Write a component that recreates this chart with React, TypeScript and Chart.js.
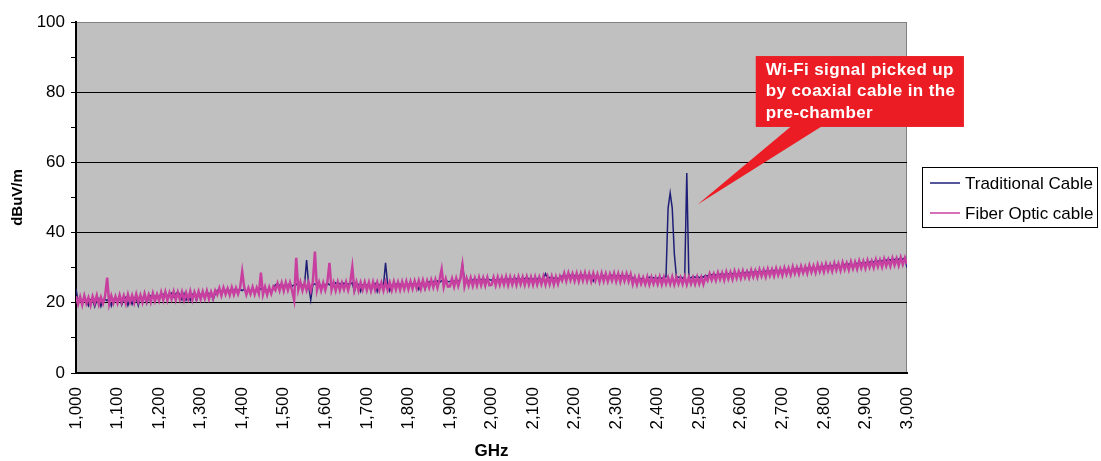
import React, { useEffect, useRef } from 'react';
import { Chart, registerables } from 'chart.js';

Chart.register(...registerables);

// ---- axis definitions ----
const FREQ_START = 1000; // start of the sweep grid
const FREQ_STEP = 5;
const X_MIN = 1000;
const X_MAX = 3000;
const X_TICK_STEP = 100;
const Y_MIN = 0;
const Y_MAX = 100;
const Y_TICK_STEP = 10;
const Y_LABEL_STEP = 20;

const SERIES_NAMES = ['Traditional Cable', 'Fiber Optic cable'];
const SERIES_COLORS = ['#1e1e78', '#c8409f'];
const X_TITLE = 'GHz';
const Y_TITLE = 'dBuV/m';

// ---- series values, one per 5 MHz step, rows of 100 MHz ----
const traditionalCable = [
  24.0, 20.5, 21.0, 20.2, 21.3, 20.6, 19.2, 20.9, 21.1, 18.9, 20.7, 21.2, 19.0, 20.8, 21.0, 20.6, 21.3, 19.1, 20.9, 21.1,
  21.0, 21.4, 19.4, 21.2, 21.6, 19.3, 21.1, 19.6, 21.5, 21.3, 19.2, 21.7, 21.4, 21.8, 19.8, 21.5, 22.0, 21.6, 21.9, 21.7,
  21.8, 22.6, 22.2, 23.0, 21.9, 22.4, 22.8, 21.7, 22.5, 23.1, 22.3, 20.9, 22.6, 20.8, 21.9, 20.7, 22.4, 22.8, 20.6, 22.5,
  22.3, 22.7, 22.1, 23.2, 22.4, 22.8, 20.9, 22.6, 23.5, 23.9, 23.2, 23.8, 23.4, 24.0, 23.3, 23.7, 23.5, 24.1, 23.4, 23.8,
  23.5, 23.9, 23.2, 23.7, 23.4, 24.0, 23.3, 23.8, 23.5, 24.1, 23.6, 23.9, 23.4, 24.0, 23.5, 23.9, 25.1, 25.4, 24.9, 25.3,
  24.8, 25.2, 24.9, 25.5, 24.7, 25.1, 25.3, 24.9, 25.4, 25.0, 25.2, 32.2, 24.9, 20.8, 25.1, 25.4, 25.0, 25.5, 24.8, 25.2,
  25.0, 25.6, 25.1, 25.4, 25.0, 25.7, 25.2, 25.5, 24.9, 25.6, 25.1, 25.4, 25.3, 25.7, 23.2, 25.5, 25.2, 23.3, 25.1, 25.4,
  25.0, 25.4, 23.3, 25.2, 25.5, 23.2, 25.1, 25.4, 24.9, 31.4, 25.3, 23.4, 25.0, 25.4, 25.2, 25.6, 25.1, 25.5, 25.0, 25.3,
  25.2, 25.6, 25.3, 25.7, 25.2, 23.8, 25.5, 25.9, 23.9, 25.6, 26.0, 25.7, 26.1, 25.5, 26.2, 25.8, 26.3, 25.9, 26.4, 26.0,
  26.1, 26.5, 26.0, 26.6, 26.2, 26.7, 31.0, 26.3, 26.8, 26.2, 26.6, 26.4, 26.9, 26.3, 26.7, 26.5, 27.0, 26.4, 26.8, 26.6,
  26.4, 26.9, 26.3, 27.0, 26.5, 26.8, 26.4, 27.1, 26.6, 26.9, 26.5, 27.2, 26.7, 27.0, 26.6, 27.1, 26.8, 27.3, 26.7, 27.0,
  26.6, 27.1, 26.7, 27.3, 26.5, 27.0, 28.3, 26.8, 27.2, 26.7, 27.1, 26.6, 27.0, 26.9, 27.6, 28.0, 27.5, 28.1, 27.7, 28.2,
  27.6, 28.0, 27.5, 28.2, 27.7, 27.9, 27.4, 28.1, 27.6, 26.2, 27.5, 27.9, 26.1, 28.0, 27.6, 27.8, 26.3, 28.1, 27.7, 27.9,
  27.5, 28.0, 27.6, 27.9, 27.4, 28.1, 27.5, 27.8, 26.8, 27.3, 25.8, 27.1, 26.7, 27.2, 25.7, 26.9, 27.3, 26.8, 27.2, 26.9,
  27.0, 27.4, 26.9, 27.3, 27.4, 47.0, 51.3, 47.0, 34.0, 27.5, 27.2, 27.4, 27.0, 27.3, 57.0, 27.3, 27.1, 27.5, 27.2, 27.6,
  27.1, 27.5, 27.3, 27.8, 27.6, 28.1, 27.9, 28.3, 27.8, 28.2, 28.0, 28.4, 27.9, 28.5, 28.1, 28.6, 28.2, 28.7, 28.0, 28.6,
  28.3, 28.8, 28.4, 29.0, 28.5, 28.9, 28.6, 29.1, 28.7, 29.0, 28.8, 29.2, 28.9, 29.3, 28.8, 29.4, 29.0, 29.5, 28.9, 29.4,
  29.1, 29.6, 29.2, 29.7, 28.3, 29.8, 29.4, 29.9, 29.5, 30.0, 28.7, 30.1, 29.7, 30.2, 29.8, 30.3, 28.9, 30.4, 30.0, 30.5,
  30.2, 30.7, 30.3, 30.8, 30.4, 30.9, 30.6, 31.0, 29.6, 31.1, 30.8, 31.2, 30.9, 31.3, 30.0, 31.4, 31.1, 31.5, 31.2, 31.6,
  31.3, 31.8, 31.5, 31.9, 31.6, 32.1, 31.7, 32.2, 31.8, 32.3, 32.0, 32.5, 32.1, 32.6, 32.2, 32.7, 32.3, 32.8, 32.4, 32.9,
  30.0,
];

const fiberOpticCable = [
  21.9, 19.6, 21.7, 19.4, 22.0, 19.8, 21.5, 19.3, 21.8, 19.9, 22.1, 19.5, 21.6, 19.8, 21.9, 27.2, 19.7, 22.0, 19.9, 21.8,
  19.9, 22.2, 20.1, 22.0, 19.8, 22.4, 20.2, 22.1, 20.0, 22.5, 20.3, 22.2, 20.1, 22.6, 20.4, 22.3, 20.2, 22.7, 20.5, 22.4,
  20.6, 23.0, 20.8, 23.1, 20.7, 22.9, 21.0, 23.2, 20.8, 23.0, 20.9, 23.1, 20.7, 22.9, 21.0, 23.3, 20.8, 23.0, 21.1, 23.2,
  21.0, 23.2, 21.2, 23.4, 21.1, 23.1, 21.3, 23.5, 22.3, 24.2, 22.1, 24.3, 22.4, 24.1, 22.2, 24.4, 22.3, 24.2, 22.5, 24.3,
  28.9, 24.4, 22.3, 24.2, 22.5, 24.5, 22.4, 24.3, 22.6, 28.6, 22.4, 24.5, 22.3, 24.4, 22.6, 24.6, 23.6, 25.6, 23.5, 25.7,
  23.4, 25.8, 23.6, 25.7, 23.5, 20.8, 32.8, 23.7, 25.9, 23.5, 25.7, 23.6, 25.8, 23.4, 25.9, 34.6, 23.6, 25.8, 23.5, 25.7,
  23.6, 25.9, 31.4, 23.7, 25.8, 23.5, 25.9, 23.6, 25.7, 23.8, 25.9, 23.6, 25.8, 30.2, 23.7, 25.9, 23.5, 25.8, 23.7, 25.9,
  23.6, 25.8, 23.5, 25.9, 23.7, 25.8, 23.6, 25.7, 23.5, 25.9, 23.7, 25.8, 23.6, 26.0, 23.8, 25.9, 23.7, 26.0, 23.9, 26.1,
  23.9, 26.1, 24.0, 26.2, 24.1, 26.3, 24.0, 26.4, 24.2, 26.3, 24.3, 26.5, 24.4, 26.6, 24.3, 26.7, 29.6, 24.5, 26.8, 24.6,
  24.7, 26.9, 24.6, 27.0, 24.8, 26.9, 30.8, 24.7, 27.0, 24.9, 27.1, 24.8, 27.0, 24.9, 27.2, 25.0, 27.1, 24.9, 27.2, 25.0,
  25.1, 27.2, 25.0, 27.3, 25.1, 27.2, 25.2, 27.4, 25.0, 27.3, 25.2, 27.2, 25.1, 27.4, 25.3, 27.3, 25.1, 27.4, 25.2, 27.3,
  25.1, 27.4, 25.2, 27.3, 25.3, 27.5, 25.2, 27.4, 25.3, 27.5, 25.2, 27.4, 25.4, 27.6, 26.3, 28.4, 26.2, 28.5, 26.4, 28.3,
  26.2, 28.4, 26.1, 28.3, 26.3, 28.5, 26.2, 28.3, 26.1, 28.4, 26.3, 28.2, 26.0, 28.4, 26.2, 28.3, 26.1, 28.2, 26.3, 28.4,
  26.1, 28.3, 26.0, 28.2, 26.2, 28.3, 26.1, 28.1, 25.3, 27.3, 25.2, 27.4, 25.4, 27.2, 25.3, 27.4, 25.2, 27.3, 25.4, 27.2,
  25.3, 27.4, 25.2, 27.3, 25.4, 27.2, 25.3, 27.4, 25.2, 27.3, 25.4, 27.2, 25.3, 27.4, 25.2, 27.3, 25.4, 27.2, 25.3, 27.4,
  25.4, 27.3, 25.3, 27.4, 26.3, 28.3, 26.5, 28.2, 26.4, 28.6, 26.7, 28.5, 26.5, 28.8, 26.8, 28.7, 26.7, 29.0, 27.0, 28.9,
  27.0, 29.1, 27.2, 28.9, 27.1, 29.3, 27.4, 29.2, 27.3, 29.5, 27.6, 29.4, 27.4, 29.6, 27.7, 29.5, 27.6, 29.8, 27.9, 29.7,
  27.8, 30.0, 28.1, 29.9, 28.0, 30.3, 28.3, 30.1, 28.2, 30.4, 28.5, 30.3, 28.4, 30.7, 28.7, 30.5, 28.6, 30.9, 28.9, 30.8,
  28.8, 31.1, 29.1, 30.9, 29.0, 31.3, 29.3, 31.2, 29.2, 31.5, 29.5, 31.3, 29.4, 31.7, 29.7, 31.6, 29.6, 31.9, 29.9, 31.8,
  29.8, 32.1, 30.1, 31.9, 30.0, 32.3, 30.3, 32.2, 30.2, 32.5, 30.5, 32.3, 30.4, 32.7, 30.7, 32.6, 30.6, 32.9, 30.9, 32.8,
  31.0,
];

// ---- callout annotation (data coordinates) ----
const CALLOUT_LINES = ['Wi-Fi signal picked up', 'by coaxial cable in the', 'pre-chamber'];
const CALLOUT_TIP = { x: 2496, y: 48 };
const CALLOUT_BOX = { x0: 2636, x1: 3137, yTop: 90.3, yBottom: 70.1 };
const CALLOUT_BASE = { x0: 2725, x1: 2800 };

const SANS = "'Liberation Sans', Arial, sans-serif";

const toPoints = (values: number[]) =>
  values.map((v, i) => ({ x: FREQ_START + i * FREQ_STEP, y: v }));

const plotBackground = {
  id: 'plotBackground',
  beforeDraw(chart: any) {
    const { ctx, chartArea: a } = chart;
    ctx.save();
    ctx.fillStyle = '#c0c0c0';
    ctx.fillRect(a.left, a.top, a.right - a.left, a.bottom - a.top);
    ctx.strokeStyle = '#808080';
    ctx.lineWidth = 1;
    ctx.strokeRect(a.left + 0.5, a.top + 0.5, a.right - a.left - 1, a.bottom - a.top - 1);
    ctx.restore();
  },
};

const calloutPlugin = {
  id: 'callout',
  afterDraw(chart: any) {
    const { ctx, scales } = chart;
    const xs = scales.x;
    const ys = scales.y;
    const left = xs.getPixelForValue(CALLOUT_BOX.x0);
    const right = xs.getPixelForValue(CALLOUT_BOX.x1);
    const top = ys.getPixelForValue(CALLOUT_BOX.yTop);
    const bottom = ys.getPixelForValue(CALLOUT_BOX.yBottom);
    const tipX = xs.getPixelForValue(CALLOUT_TIP.x);
    const tipY = ys.getPixelForValue(CALLOUT_TIP.y);
    const b0 = xs.getPixelForValue(CALLOUT_BASE.x0);
    const b1 = xs.getPixelForValue(CALLOUT_BASE.x1);
    ctx.save();
    ctx.fillStyle = '#ec1c24';
    ctx.beginPath();
    ctx.moveTo(b0, bottom - 2);
    ctx.lineTo(tipX, tipY);
    ctx.lineTo(b1, bottom - 2);
    ctx.closePath();
    ctx.fill();
    ctx.fillRect(left, top, right - left, bottom - top);
    ctx.fillStyle = '#ffffff';
    ctx.font = `bold 17px ${SANS}`;
    (ctx as any).letterSpacing = '0.4px';
    ctx.textBaseline = 'middle';
    ctx.textAlign = 'left';
    CALLOUT_LINES.forEach((line, i) => {
      ctx.fillText(line, left + 10, top + 14 + i * 21.5);
    });
    ctx.restore();
  },
};

const legendPlugin = {
  id: 'boxLegend',
  afterDraw(chart: any) {
    const { ctx, chartArea } = chart;
    const x0 = chartArea.right + 15;
    const y0 = 167;
    const w = 175;
    const h = 60;
    ctx.save();
    ctx.fillStyle = '#ffffff';
    ctx.fillRect(x0, y0, w, h);
    ctx.strokeStyle = '#000000';
    ctx.lineWidth = 1;
    ctx.strokeRect(x0 + 0.5, y0 + 0.5, w, h);
    ctx.font = `17px ${SANS}`;
    ctx.textBaseline = 'middle';
    ctx.textAlign = 'left';
    SERIES_NAMES.forEach((name, i) => {
      const y = y0 + 16 + i * 30;
      ctx.strokeStyle = SERIES_COLORS[i];
      ctx.lineWidth = 1.5;
      ctx.beginPath();
      ctx.moveTo(x0 + 8, y);
      ctx.lineTo(x0 + 38, y);
      ctx.stroke();
      ctx.fillStyle = '#000000';
      ctx.fillText(name, x0 + 43, y + 1);
    });
    ctx.restore();
  },
};

export default function App() {
  const canvasRef = useRef<HTMLCanvasElement | null>(null);

  useEffect(() => {
    if (!canvasRef.current) return;
    const chart = new Chart(canvasRef.current, {
      type: 'line',
      data: {
        datasets: [
          {
            label: SERIES_NAMES[0],
            data: toPoints(traditionalCable),
            borderColor: SERIES_COLORS[0],
            backgroundColor: SERIES_COLORS[0],
            borderWidth: 1.5,
            pointRadius: 0,
            tension: 0,
            order: 1,
          },
          {
            label: SERIES_NAMES[1],
            data: toPoints(fiberOpticCable),
            borderColor: SERIES_COLORS[1],
            backgroundColor: SERIES_COLORS[1],
            borderWidth: 2.5,
            pointRadius: 0,
            tension: 0,
            order: 0,
          },
        ],
      },
      options: {
        animation: false,
        responsive: false,
        devicePixelRatio: 1,
        events: [],
        layout: { padding: { left: 0, top: 22, right: 194, bottom: 0 } },
        plugins: {
          legend: { display: false },
          tooltip: { enabled: false },
          title: { display: false },
        },
        scales: {
          x: {
            type: 'linear',
            min: X_MIN,
            max: X_MAX,
            afterFit: (scale: any) => {
              scale.height = 88;
            },
            ticks: {
              stepSize: X_TICK_STEP,
              autoSkip: false,
              maxRotation: 90,
              minRotation: 90,
              padding: 14,
              color: '#000000',
              font: { family: SANS, size: 17 },
              callback: (v: any) => Number(v).toLocaleString('en-US'),
            },
            grid: { display: false, drawTicks: false },
            border: { display: true, color: '#000000', width: 2 },
            title: {
              display: true,
              text: X_TITLE,
              color: '#000000',
              font: { family: SANS, size: 17, weight: 'bold', lineHeight: 1 },
              padding: { top: 0, bottom: 1 },
            },
          },
          y: {
            type: 'linear',
            min: Y_MIN,
            max: Y_MAX,
            afterFit: (scale: any) => {
              scale.width = 76;
            },
            ticks: {
              stepSize: Y_TICK_STEP,
              padding: 6,
              color: '#000000',
              font: { family: SANS, size: 17 },
              callback: (v: any) => (Number(v) % Y_LABEL_STEP === 0 ? String(v) : ''),
            },
            grid: {
              color: (c: any) =>
                c.tick && c.tick.value % Y_LABEL_STEP === 0 && c.tick.value > Y_MIN && c.tick.value < Y_MAX
                  ? '#000000'
                  : 'rgba(0,0,0,0)',
              tickColor: '#000000',
              tickLength: 5,
              lineWidth: 1,
            },
            border: { display: true, color: '#000000', width: 2 },
            title: {
              display: true,
              text: Y_TITLE,
              color: '#000000',
              font: { family: SANS, size: 15, weight: 'bold', lineHeight: 1 },
              padding: { top: 10, bottom: 0 },
            },
          },
        },
      },
      plugins: [plotBackground, calloutPlugin, legendPlugin],
    });
    return () => chart.destroy();
  }, []);

  return (
    <div style={{ position: 'fixed', left: 0, top: 0, width: 1101, height: 461, background: '#ffffff' }}>
      <canvas ref={canvasRef} width={1101} height={461} />
    </div>
  );
}
